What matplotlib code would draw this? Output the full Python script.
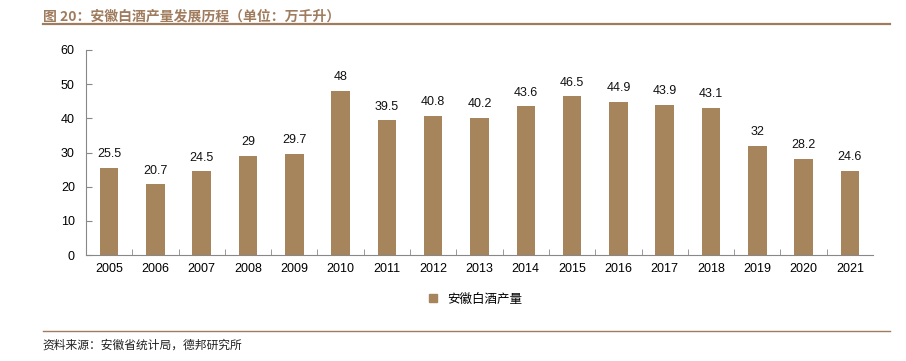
import matplotlib
matplotlib.use("Agg")
import matplotlib.pyplot as plt
from matplotlib.lines import Line2D

plt.rcParams['font.family'] = ['Liberation Sans', 'Noto Sans CJK SC', 'DejaVu Sans']

years = ['2005', '2006', '2007', '2008', '2009', '2010', '2011', '2012', '2013',
         '2014', '2015', '2016', '2017', '2018', '2019', '2020', '2021']
output = [25.5, 20.7, 24.5, 29, 29.7, 48, 39.5, 40.8, 40.2,
          43.6, 46.5, 44.9, 43.9, 43.1, 32, 28.2, 24.6]
yticks = [0, 10, 20, 30, 40, 50, 60]

bar_color = '#A6845C'
brown = '#A07C5E'

fig = plt.figure(figsize=(9.06, 3.61), dpi=100)
ax = fig.add_axes([0.0949, 0.2936, 0.8687, 0.5679])

x = list(range(len(years)))
bars = ax.bar(x, output, width=0.4, color=bar_color, label='安徽白酒产量')
for xi, v in zip(x, output):
    ax.text(xi, v + 2.2, f'{v:g}', ha='center', va='bottom', fontsize=9, color='#111111')

ax.set_xlim(-0.5, len(years) - 0.5)
ax.set_ylim(0, 60)
ax.set_yticks(yticks)
ax.set_xticks(x)
ax.set_xticklabels(years)
ax.set_xticks([i + 0.5 for i in x[:-1]], minor=True)
ax.tick_params(axis='x', which='major', length=0, labelsize=9, pad=6)
ax.tick_params(axis='x', which='minor', length=4, direction='in', color='#888888')
ax.tick_params(axis='y', length=4, direction='in', labelsize=9, color='#888888', pad=8)
for s in ['top', 'right']:
    ax.spines[s].set_visible(False)
for s in ['left', 'bottom']:
    ax.spines[s].set_color('#888888')
    ax.spines[s].set_linewidth(0.8)

handles = [Line2D([], [], marker='s', linestyle='none', markersize=6,
                  markerfacecolor=bar_color, markeredgecolor=bar_color)]
fig.legend(handles, ['安徽白酒产量'], loc='center', bbox_to_anchor=(0.52, 0.172),
           frameon=False, handletextpad=0.1, prop={'family': ['Noto Sans CJK SC'], 'size': 9})

fig.text(0.047, 0.972, '图 20：安徽白酒产量发展历程（单位：万千升）', ha='left', va='top',
         fontsize=10, fontweight='bold', color=brown,
         family=['Noto Sans CJK SC', 'DejaVu Sans'])
fig.add_artist(Line2D([0.047, 0.982], [0.933, 0.933], color=brown, linewidth=1.6))
fig.add_artist(Line2D([0.047, 0.982], [0.083, 0.083], color=brown, linewidth=1.0))
fig.text(0.047, 0.045, '资料来源：安徽省统计局，德邦研究所', ha='left', va='center',
         fontsize=8.5, color='#222222', family=['Noto Sans CJK SC', 'DejaVu Sans'])

fig.savefig('out.png', dpi=100)
